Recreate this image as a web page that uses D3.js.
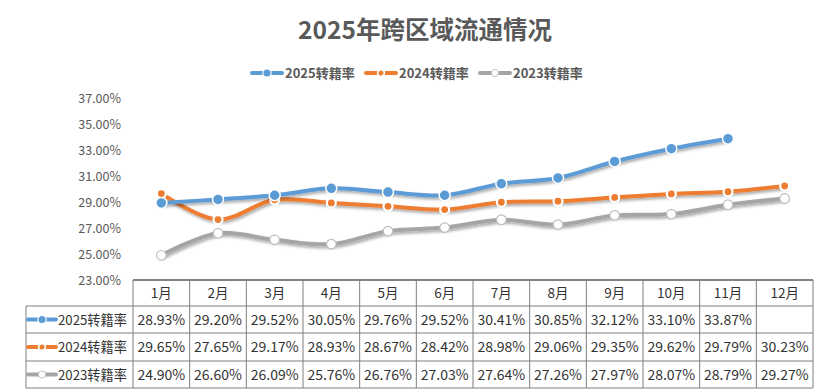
<!DOCTYPE html>
<html>
<head>
<meta charset="utf-8">
<script src="https://cdn.jsdelivr.net/npm/d3@7"></script>
<style>
  body { margin: 0; background: #fff; }
  text { font-family: "Noto Sans CJK SC", "Noto Sans", sans-serif; }
</style>
</head>
<body>
<div id="chart"></div>
<script>
// data
var months = ["1月","2月","3月","4月","5月","6月","7月","8月","9月","10月","11月","12月"];
var names = ["2025转籍率","2024转籍率","2023转籍率"];
var v2025 = [28.93, 29.20, 29.52, 30.05, 29.76, 29.52, 30.41, 30.85, 32.12, 33.10, 33.87, null];
var v2024 = [29.65, 27.65, 29.17, 28.93, 28.67, 28.42, 28.98, 29.06, 29.35, 29.62, 29.79, 30.23];
var v2023 = [24.90, 26.60, 26.09, 25.76, 26.76, 27.03, 27.64, 27.26, 27.97, 28.07, 28.79, 29.27];
var yTicks = [23, 25, 27, 29, 31, 33, 35, 37];

var colors = ["#5b9bd5", "#ed7d31", "#a5a5a5"];
var series = [v2025, v2024, v2023];

var W = 824, H = 389;
var plot = {left: 133, right: 813, top: 98, bottom: 280};
var rowTop = [280, 306, 333, 361, 388];
var headLeft = 26;

var svg = d3.select("#chart").append("svg")
    .attr("width", W)
    .attr("height", H);

// drop shadow for lines
var defs = svg.append("defs");
var f = defs.append("filter").attr("id", "shadow")
    .attr("x", "-10%").attr("y", "-30%").attr("width", "130%").attr("height", "180%");
f.append("feDropShadow")
    .attr("dx", 1.5).attr("dy", 2).attr("stdDeviation", 1.5)
    .attr("flood-color", "#000").attr("flood-opacity", 0.35);

// title
svg.append("text")
    .attr("x", 425).attr("y", 39)
    .attr("text-anchor", "middle")
    .attr("font-size", 24.5).attr("font-weight", "bold")
    .attr("fill", "#595959")
    .text("2025年跨区域流通情况");

// scales
var x = d3.scaleBand().domain(months).range([plot.left, plot.right]);
var y = d3.scaleLinear().domain([23, 37]).range([plot.bottom, plot.top]);

// y axis labels
svg.append("g")
    .attr("transform", "translate(" + (plot.left - 12) + ",0)")
    .call(d3.axisLeft(y).tickValues(yTicks).tickSize(0).tickPadding(0)
      .tickFormat(function(d) { return d.toFixed(2) + "%"; }))
    .call(function(g) { g.select(".domain").remove(); })
    .selectAll("text")
      .attr("font-size", 12.5)
      .attr("fill", "#595959")
      .style("font-family", '"Noto Sans CJK SC", sans-serif');

// marker drawing helper
function marker(g, i, cx, cy, scale) {
  var k = scale || 1;
  if (i === 0) {
    g.append("circle").attr("cx", cx).attr("cy", cy).attr("r", 5.5 * k)
      .attr("fill", colors[0]).attr("stroke", "#fff").attr("stroke-width", 1.5 * k);
  } else if (i === 1) {
    g.append("circle").attr("cx", cx).attr("cy", cy).attr("r", 4.5 * k)
      .attr("fill", colors[1]).attr("stroke", "#fff").attr("stroke-width", 2.2 * k);
  } else {
    g.append("circle").attr("cx", cx).attr("cy", cy).attr("r", 4.8 * k)
      .attr("fill", "#fff").attr("stroke", "#bfbfbf").attr("stroke-width", 1.2 * k);
  }
}

var line = d3.line()
    .defined(function(d) { return d != null; })
    .x(function(d, i) { return x(months[i]) + x.bandwidth() / 2; })
    .y(function(d) { return y(d); })
    .curve(d3.curveCatmullRom.alpha(0.5));

// draw gray first so blue sits on top
[2, 1, 0].forEach(function(i) {
  var g = svg.append("g");
  g.append("path")
    .datum(series[i])
    .attr("fill", "none")
    .attr("stroke", colors[i])
    .attr("stroke-width", 4)
    .attr("stroke-linecap", "round")
    .attr("filter", "url(#shadow)")
    .attr("d", line);
  series[i].forEach(function(d, j) {
    if (d == null) return;
    marker(g, i, x(months[j]) + x.bandwidth() / 2, y(d));
  });
});

// legend
var legendX = [252, 366, 480];
names.forEach(function(n, i) {
  var g = svg.append("g").attr("transform", "translate(" + legendX[i] + ",73)");
  g.append("line").attr("x1", 0).attr("x2", 30).attr("y1", 0).attr("y2", 0)
    .attr("stroke", colors[i]).attr("stroke-width", 4).attr("stroke-linecap", "round");
  marker(g, i, 15, 0, 0.75);
  g.append("text").attr("x", 33).attr("y", 4.5)
    .attr("font-size", 13).attr("font-weight", "bold").attr("fill", "#595959")
    .text(n);
});

// data table
var tbl = svg.append("g");
var border = "#7f7f7f";

// horizontal lines
tbl.append("line").attr("x1", plot.left).attr("x2", plot.right)
  .attr("y1", rowTop[0]).attr("y2", rowTop[0])
  .attr("stroke", "#595959").attr("stroke-width", 1.5);
rowTop.slice(1).forEach(function(ty) {
  tbl.append("line").attr("x1", headLeft).attr("x2", plot.right)
    .attr("y1", ty).attr("y2", ty).attr("stroke", border);
});
// vertical lines
tbl.append("line").attr("x1", headLeft).attr("x2", headLeft)
  .attr("y1", rowTop[1]).attr("y2", rowTop[4]).attr("stroke", border);
months.forEach(function(m) {
  tbl.append("line").attr("x1", x(m)).attr("x2", x(m))
    .attr("y1", rowTop[0]).attr("y2", rowTop[4]).attr("stroke", border);
});
tbl.append("line").attr("x1", plot.right).attr("x2", plot.right)
  .attr("y1", rowTop[0]).attr("y2", rowTop[4]).attr("stroke", border);

// header row
months.forEach(function(m) {
  tbl.append("text")
    .attr("x", x(m) + x.bandwidth() / 2)
    .attr("y", (rowTop[0] + rowTop[1]) / 2 + 5)
    .attr("text-anchor", "middle")
    .attr("font-size", 13.5).attr("fill", "#333")
    .text(m);
});

// value rows
series.forEach(function(s, i) {
  var cy = (rowTop[i + 1] + rowTop[i + 2]) / 2;
  var g = tbl.append("g").attr("transform", "translate(" + (headLeft + 2) + "," + cy + ")");
  g.append("line").attr("x1", 0).attr("x2", 28).attr("y1", 0).attr("y2", 0)
    .attr("stroke", colors[i]).attr("stroke-width", 4).attr("stroke-linecap", "round");
  marker(g, i, 14, 0, 0.75);
  g.append("text").attr("x", 30).attr("y", 5)
    .attr("font-size", 13.2).attr("fill", "#333")
    .text(names[i]);
  s.forEach(function(d, j) {
    if (d == null) return;
    tbl.append("text")
      .attr("x", x(months[j]) + x.bandwidth() / 2)
      .attr("y", cy + 5)
      .attr("text-anchor", "middle")
      .attr("font-size", 14).attr("fill", "#333")
      .text(d.toFixed(2) + "%");
  });
});
</script>
</body>
</html>
